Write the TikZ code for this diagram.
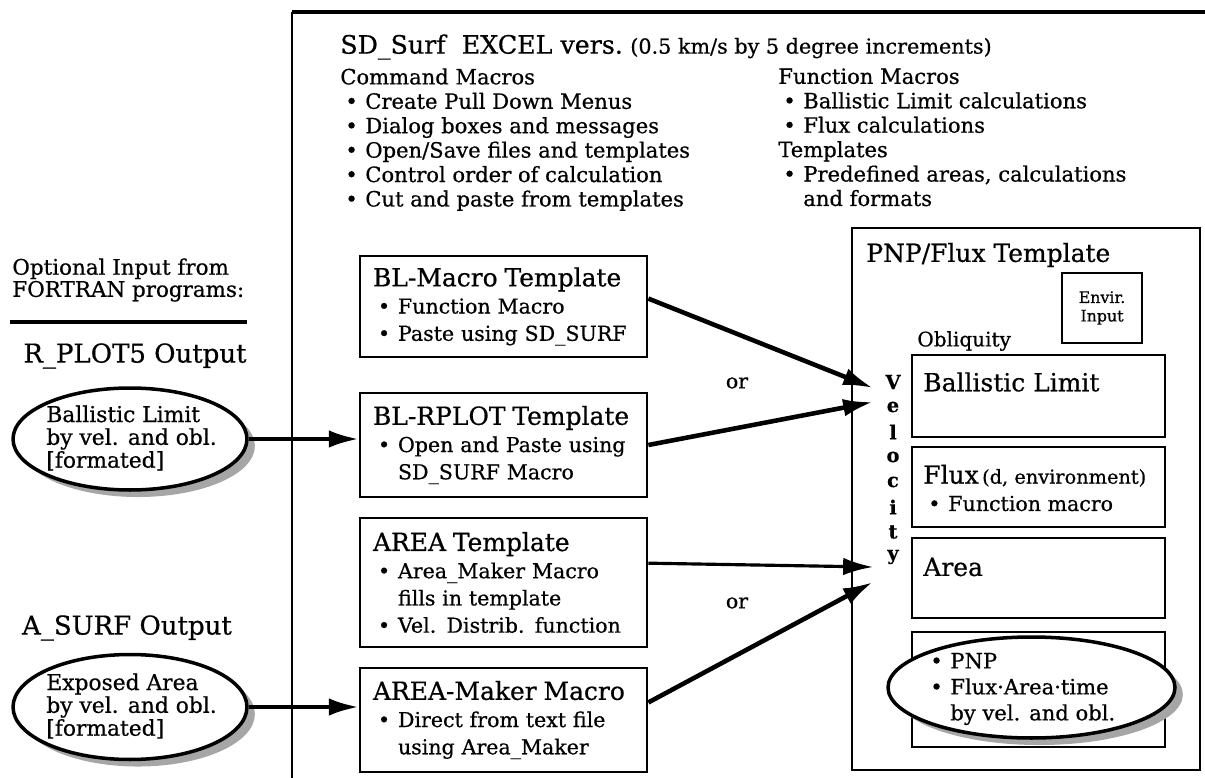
\documentclass[tikz,border=0pt]{standalone}
\usepackage{fontspec}
\setmainfont{DejaVu Serif}[FakeBold=0.6]
\usetikzlibrary{arrows.meta,shapes.geometric,shadows}
\newcommand{\bul}{\hspace*{0.1cm}\makebox[0.4cm][l]{\textbullet}}
\newcommand{\ind}{\hspace*{0.5cm}}
\newcommand{\bigsz}{\fontsize{14.2}{16}\selectfont}
\newcommand{\midsz}{\fontsize{11.7}{15.5}\selectfont}
\newcommand{\hdrsz}{\fontsize{12}{13.9}\selectfont}

\begin{document}
\begin{tikzpicture}[x=0.02cm,y=-0.02cm,
  tbox/.style={draw,line width=1.6pt,inner sep=0pt},
  boxtxt/.style={align=left,text width=5.22cm,inner xsep=0.26cm,inner ysep=0pt,font=\midsz},
  lbl/.style={inner sep=0pt,align=left},
  oval/.style={ellipse,draw,line width=2pt,fill=white,inner sep=0pt,
    general shadow={shadow xshift=4.5pt,shadow yshift=-4pt,fill=gray!70}},
  arr/.style={-{Latex[length=17pt,width=10pt]},line width=2.6pt},
  vel/.style={font=\fontsize{11}{13}\bfseries\selectfont,inner sep=0pt}]
\useasboundingbox (0,0) rectangle (1205,778);
% SD_Surf frame (runs off the page)
\draw[line width=1.6pt] (292,778) -- (292,12);
\draw[line width=2.3pt] (292,12) -- (1205,12);
\node[lbl,anchor=west] (title) at (340,47) {{\fontsize{14.4}{17}\selectfont SD\_Surf\ \ EXCEL vers.} {\fontsize{11.8}{13}\selectfont(0.5 km/s by 5 degree increments)}};
\node[lbl,anchor=north west,font=\hdrsz] (cmd) at (340,68) {Command Macros\\
  \bul Create Pull Down Menus\\ \bul Dialog boxes and messages\\
  \bul Open/Save files and templates\\ \bul Control order of calculation\\
  \bul Cut and paste from templates};
\node[lbl,anchor=north west,font=\hdrsz] (fun) at (778,68) {Function Macros\\
  \bul Ballistic Limit calculations\\ \bul Flux calculations\\
  Templates\\ \bul Predefined areas, calculations\\ \ind and formats};
% FORTRAN inputs
\node[lbl,anchor=west,font=\fontsize{12.2}{12.6}\selectfont] (opt) at (12,280) {Optional Input from\\FORTRAN programs:};
\draw[line width=2.3pt] (10,322) -- (247,322);
\node[lbl,font=\fontsize{14.8}{17}\selectfont] (rplot) at (135,356) {R\_PLOT5 Output};
\node[oval,minimum width=4.68cm,minimum height=2.04cm] (rp) at (130,439) {};
\node[lbl,anchor=west,font=\fontsize{12.4}{13}\selectfont] (rptxt) at (46,438) {Ballistic Limit\\by vel. and obl.\\{[}formated{]}};
\node[lbl,font=\fontsize{14.8}{17}\selectfont] (asurf) at (127,628) {A\_SURF Output};
\node[oval,minimum width=4.68cm,minimum height=2.1cm] (as) at (130,707) {};
\node[lbl,anchor=west,font=\fontsize{12.4}{13}\selectfont] (astxt) at (46,706) {Exposed Area\\by vel. and obl.\\{[}formated{]}};
% templates
\node[tbox,boxtxt,minimum height=2.02cm] (blm) at (503.5,306.5) {{\bigsz BL-Macro Template}\\
  \bul Function Macro\\ \bul Paste using SD\_SURF};
\node[tbox,boxtxt,minimum height=2.08cm] (blr) at (503.5,445) {{\bigsz BL-RPLOT Template}\\
  \bul Open and Paste using\\ \ind SD\_SURF Macro};
\node[tbox,boxtxt,minimum height=2.58cm] (areat) at (503.5,582.5) {{\bigsz AREA Template}\\
  \bul Area\_Maker Macro\\ \ind fills in template\\ \bul Vel. Distrib. function};
\node[tbox,boxtxt,minimum height=2.08cm] (amk) at (503.5,720) {{\bigsz AREA-Maker Macro}\\
  \bul Direct from text file\\ \ind using Area\_Maker};
% PNP/Flux template
\node[tbox,minimum width=6.96cm,minimum height=10.84cm] (pnp) at (1026,499) {};
\node[lbl,anchor=west,font=\bigsz] (pnptitle) at (866,255) {PNP/Flux Template};
\node[tbox,minimum width=1.6cm,minimum height=1.4cm,align=center,font=\fontsize{9}{10.5}\selectfont] (envir) at (1102,308) {Envir.\\Input};
\node[lbl,anchor=west,font=\fontsize{11.4}{13}\selectfont] (obl) at (917,341) {Obliquity};
\foreach \l [count=\i] in {V,e,l,o,c,i,t,y}
  \node[vel] (vel\i) at (893,357+25*\i) {\l};
\node[tbox,minimum width=5.06cm,minimum height=1.64cm] (bal) at (1038.5,396) {};
\node[lbl,anchor=west,font=\bigsz] (baltxt) at (923,382) {Ballistic Limit};
\node[tbox,minimum width=5.06cm,minimum height=1.6cm] (flux) at (1038.5,487) {};
\node[lbl,anchor=west,font=\midsz] (fluxtxt) at (923,488) {{\bigsz Flux}\,{\fontsize{11}{13}\selectfont(d, environment)}\\ \bul Function macro};
\node[tbox,minimum width=5.06cm,minimum height=1.6cm] (area) at (1038.5,578) {};
\node[lbl,anchor=west,font=\bigsz] (areatxt) at (923,567) {Area};
\node[tbox,minimum width=5.06cm,minimum height=2.3cm] (pnpb) at (1038.5,689.5) {};
\node[oval,minimum width=5.74cm,minimum height=2.02cm] (res) at (1031.5,687.5) {};
\node[lbl,anchor=west,font=\fontsize{12}{14.8}\selectfont] (restxt) at (925,689) {\bul PNP\\ \bul Flux·Area·time\\ \ind by vel. and obl.};
% connectors
\coordinate (tipA) at (873,388);
\coordinate (tipB) at (873,402);
\coordinate (tipC) at (873,567);
\coordinate (tipD) at (873,582);
\draw[arr] ([yshift=4.5pt]blm.east) -- (tipA);
\draw[arr] (blr.east) -- (tipB);
\draw[arr,line width=1.8pt] ([yshift=11pt]areat.east) -- (tipC);
\draw[arr] ([yshift=10pt]amk.east) -- (tipD);
\draw[arr,line width=2.2pt] (rp.east) -- (rp.east -| blr.west);
\draw[arr,line width=2.2pt] (as.east) -- (as.east -| amk.west);
\node[lbl,font=\midsz] (or1) at (737,383) {or};
\node[lbl,font=\midsz] (or2) at (737,603) {or};
\end{tikzpicture}
\end{document}
